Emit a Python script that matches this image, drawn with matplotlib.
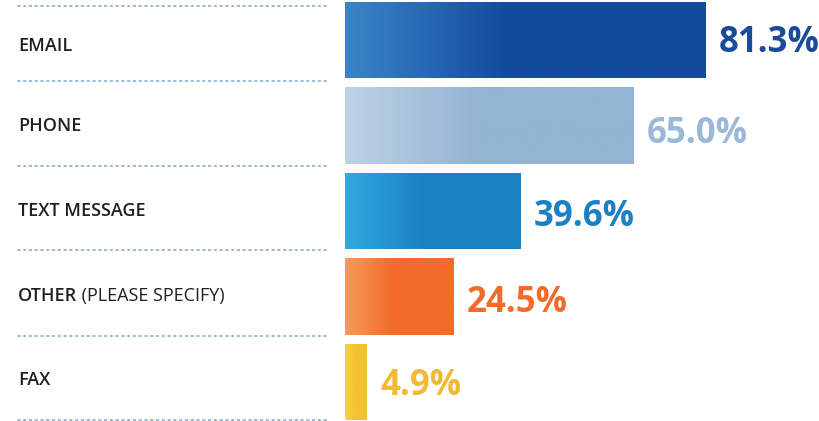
import numpy as np
import matplotlib.pyplot as plt
from matplotlib.colors import to_rgb

# Data
categories = ['EMAIL', 'PHONE', 'TEXT MESSAGE', 'OTHER', 'FAX']
category_notes = ['', '', '', ' (PLEASE SPECIFY)', '']
values = [81.3, 65.0, 39.6, 24.5, 4.9]

# gradient start / end colours and label colour per bar
grad_start = ['#3a86c8', '#bed2e6', '#31aade', '#f79a5c', '#f6d248']
grad_end = ['#144a9c', '#94b4d4', '#1a80c4', '#f26b2a', '#f3c333']
text_colors = ['#1a4a9a', '#9ab8d7', '#1a82c4', '#f26b2a', '#f2b934']

plt.rcParams['font.family'] = ['Open Sans', 'DejaVu Sans']

fig = plt.figure(figsize=(8.2, 4.21), dpi=100)
ax = fig.add_axes([0, 0, 1, 1])
ax.set_xlim(-77.7, 107.0)
ax.set_ylim(4.456, -0.468)
ax.axis('off')

index = np.arange(len(categories))
bar_h = 0.89

bars = ax.barh(index, values, height=bar_h, color=grad_end, linewidth=0)

# Gradient fill on each bar (ramp over the left part, then solid)
ramp = np.clip(np.linspace(0, 1, 256) / 0.45, 0, 1)
for bar, c0, c1 in zip(bars, grad_start, grad_end):
    c0 = np.array(to_rgb(c0))
    c1 = np.array(to_rgb(c1))
    img = c0[None, :] * (1 - ramp[:, None]) + c1[None, :] * ramp[:, None]
    x0, y0 = bar.get_x(), bar.get_y()
    w, h = bar.get_width(), bar.get_height()
    im = ax.imshow(img[None, :, :], extent=(x0, x0 + w, y0 + h, y0),
                   aspect='auto', interpolation='bilinear', zorder=2)
    im.set_clip_path(bar)

# Dotted separators on the label side
sep_y = [-0.40, 0.48, 1.47, 2.46, 3.46, 4.44]
for y in sep_y:
    ax.plot([-73.6, -4.0], [y, y], color='#8fb4d9', linestyle=(0, (1, 2.2)),
            linewidth=1.3, solid_capstyle='round', dash_capstyle='round')

# Category labels, centred between the separators
for i, (cat, note) in enumerate(zip(categories, category_notes)):
    y = (sep_y[i] + sep_y[i + 1]) / 2 + 0.03
    t = ax.text(-73.7, y, cat, fontsize=13, fontweight='semibold',
                color='#231f20', va='center', ha='left')
    if note:
        ax.annotate(note, xy=(1, 0), xycoords=t, fontsize=13,
                    fontweight='normal', color='#231f20', va='bottom', ha='left')

# Value labels
value_dy = [0.04, 0.10, 0.075, 0.075, 0.05]
for i, (v, c) in enumerate(zip(values, text_colors)):
    ax.text(v + 3.0, i + value_dy[i], f'{v:.1f}%', fontsize=25, fontweight='bold',
            color=c, va='center', ha='left')

fig.savefig('out.png', dpi=100, facecolor='white')
